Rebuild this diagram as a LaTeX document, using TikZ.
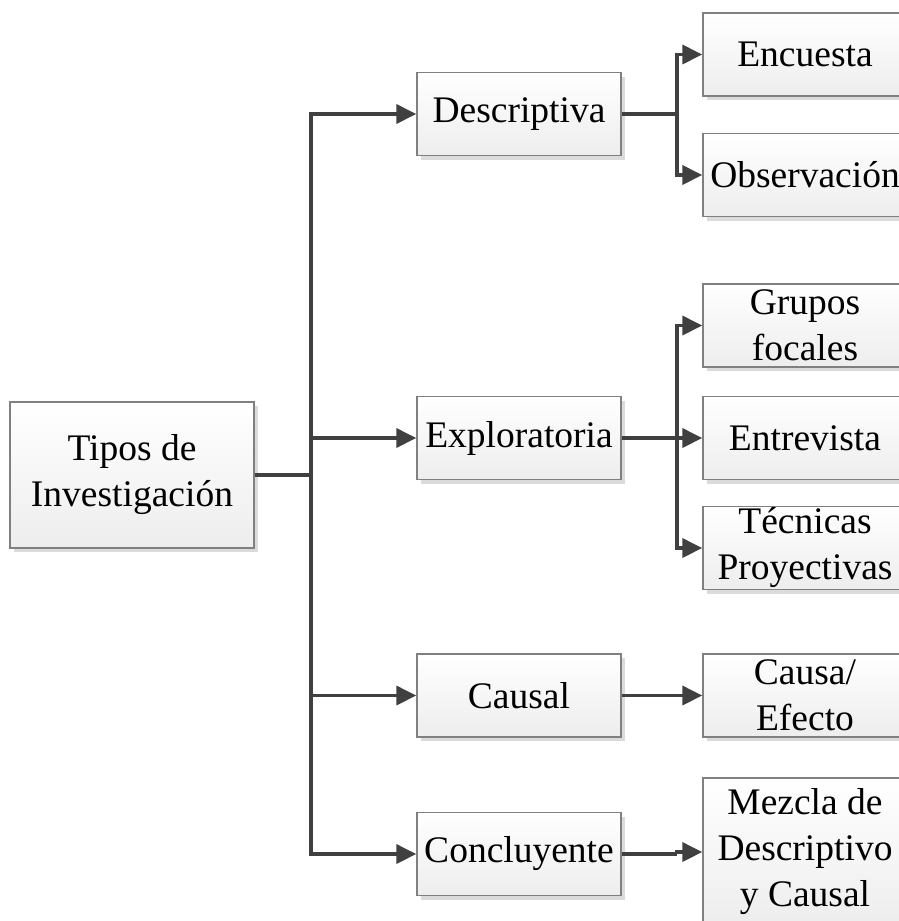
\documentclass[tikz,border=0pt]{standalone}
\usepackage{fontspec}
\setmainfont{Liberation Serif}
\usetikzlibrary{arrows.meta,shadows}
\begin{document}
\begin{tikzpicture}[x=1pt,y=-1pt,
  box/.style={rectangle, draw=black!50, line width=1.3pt, top color=white, bottom color=black!7,
    minimum width=204pt, minimum height=83pt, align=center, inner sep=0pt,
    font=\fontsize{37.5}{46}\selectfont,
    drop shadow={shadow xshift=4pt, shadow yshift=-4pt, fill=black!14, opacity=1}},
  conn/.style={draw=black!75, line width=3.3pt},
  arr/.style={conn, -{Triangle[length=20pt,width=19pt]}}
]
\useasboundingbox (0,0) rectangle (899,921);
\begin{scope}
\clip (0,0) rectangle (899,921);
\node[box, minimum width=244pt, minimum height=146pt] (tipos) at (132,475) {Tipos de\\Investigación};
\node[box] (desc) at (519,114) {Descriptiva};
\node[box] (expl) at (519,438) {Exploratoria};
\node[box] (caus) at (519,695.5) {Causal};
\node[box] (conc) at (519,854) {Concluyente};
\node[box] (enc) at (805,54.5) {Encuesta};
\node[box] (obs) at (805,175) {Observación};
\node[box] (grup) at (805,325.5) {Grupos\\focales};
\node[box] (entr) at (805,438) {Entrevista};
\node[box] (tec) at (805,548) {Técnicas\\Proyectivas};
\node[box] (ce) at (805,695.5) {Causa/\\Efecto};
\node[box, minimum height=148pt] (mez) at (805,852) {Mezcla de\\Descriptivo\\y Causal};
\end{scope}
\coordinate (m) at (311,475);
\coordinate (d) at (677,114);
\coordinate (e) at (677,438);
\coordinate (k) at (677,854);
\draw[conn] (tipos.east) -- (m);
\draw[arr] (m) |- (desc.west);
\draw[arr] (m) |- (expl.west);
\draw[arr] (m) |- (caus.west);
\draw[arr] (m) |- (conc.west);
\draw[conn] (desc.east) -- (d);
\draw[arr] (d) |- (enc.west);
\draw[arr] (d) |- (obs.west);
\draw[conn] (expl.east) -- (e);
\draw[arr] (e) |- (grup.west);
\draw[arr] (e) -- (entr.west);
\draw[arr] (e) |- (tec.west);
\draw[arr] (caus.east) -- (ce.west);
\draw[conn] (conc.east) -- (k);
\draw[arr] (k) |- (mez.west);
\end{tikzpicture}
\end{document}
